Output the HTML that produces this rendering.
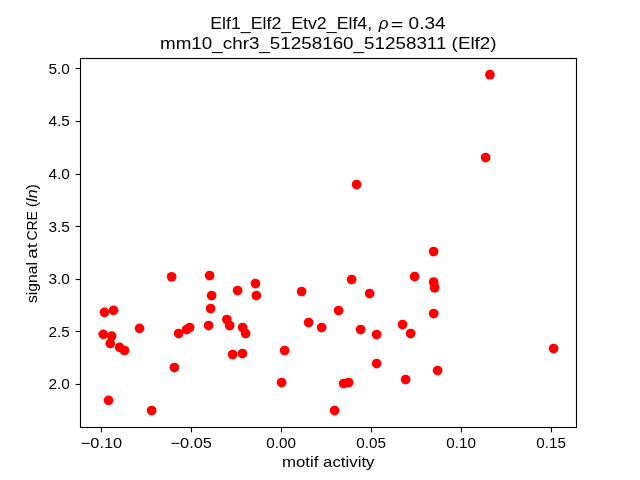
<!DOCTYPE html>
<html><head><meta charset="utf-8"><style>
html,body{margin:0;padding:0;background:#fff;width:640px;height:480px;overflow:hidden}
svg{display:block;will-change:transform}
</style></head><body>
<svg width="640" height="480" viewBox="0 0 640 480">
<rect x="0" y="0" width="640" height="480" fill="#fff"/>
<g fill="#f00">
<circle cx="489.90" cy="74.70" r="4.86"/>
<circle cx="485.65" cy="157.55" r="4.86"/>
<circle cx="356.65" cy="184.55" r="4.86"/>
<circle cx="433.65" cy="251.55" r="4.86"/>
<circle cx="171.65" cy="276.80" r="4.86"/>
<circle cx="209.65" cy="275.55" r="4.86"/>
<circle cx="351.65" cy="279.55" r="4.86"/>
<circle cx="414.65" cy="276.55" r="4.86"/>
<circle cx="433.65" cy="282.05" r="4.86"/>
<circle cx="434.65" cy="287.80" r="4.86"/>
<circle cx="255.45" cy="283.55" r="4.86"/>
<circle cx="237.65" cy="290.55" r="4.86"/>
<circle cx="256.40" cy="295.55" r="4.86"/>
<circle cx="211.65" cy="295.55" r="4.86"/>
<circle cx="301.65" cy="291.55" r="4.86"/>
<circle cx="369.65" cy="293.55" r="4.86"/>
<circle cx="210.65" cy="308.55" r="4.86"/>
<circle cx="104.45" cy="312.35" r="4.86"/>
<circle cx="113.55" cy="310.35" r="4.86"/>
<circle cx="338.65" cy="310.55" r="4.86"/>
<circle cx="433.65" cy="313.55" r="4.86"/>
<circle cx="226.90" cy="319.55" r="4.86"/>
<circle cx="229.65" cy="325.55" r="4.86"/>
<circle cx="208.65" cy="325.55" r="4.86"/>
<circle cx="189.65" cy="327.55" r="4.86"/>
<circle cx="186.65" cy="329.55" r="4.86"/>
<circle cx="178.65" cy="333.55" r="4.86"/>
<circle cx="139.55" cy="328.35" r="4.86"/>
<circle cx="103.30" cy="334.35" r="4.86"/>
<circle cx="111.65" cy="336.10" r="4.86"/>
<circle cx="110.30" cy="343.50" r="4.86"/>
<circle cx="119.65" cy="347.35" r="4.86"/>
<circle cx="124.55" cy="350.50" r="4.86"/>
<circle cx="242.65" cy="327.55" r="4.86"/>
<circle cx="245.65" cy="333.55" r="4.86"/>
<circle cx="308.65" cy="322.55" r="4.86"/>
<circle cx="321.65" cy="327.55" r="4.86"/>
<circle cx="360.65" cy="329.55" r="4.86"/>
<circle cx="376.65" cy="334.55" r="4.86"/>
<circle cx="402.60" cy="324.55" r="4.86"/>
<circle cx="410.65" cy="333.55" r="4.86"/>
<circle cx="232.65" cy="354.55" r="4.86"/>
<circle cx="242.45" cy="353.55" r="4.86"/>
<circle cx="284.65" cy="350.55" r="4.86"/>
<circle cx="553.65" cy="348.55" r="4.86"/>
<circle cx="376.65" cy="363.55" r="4.86"/>
<circle cx="174.40" cy="367.55" r="4.86"/>
<circle cx="437.65" cy="370.55" r="4.86"/>
<circle cx="405.65" cy="379.55" r="4.86"/>
<circle cx="281.65" cy="382.55" r="4.86"/>
<circle cx="343.65" cy="383.55" r="4.86"/>
<circle cx="348.65" cy="382.55" r="4.86"/>
<circle cx="108.55" cy="400.35" r="4.86"/>
<circle cx="151.65" cy="410.55" r="4.86"/>
<circle cx="334.65" cy="410.55" r="4.86"/>
</g>
<rect x="80.5" y="58.5" width="496.0" height="369.0" fill="none" stroke="#000" stroke-width="1.11"/>
<g stroke="#000" stroke-width="1.11"><line x1="101.5" y1="427.5" x2="101.5" y2="432.36"/><line x1="191.5" y1="427.5" x2="191.5" y2="432.36"/><line x1="281.5" y1="427.5" x2="281.5" y2="432.36"/><line x1="371.5" y1="427.5" x2="371.5" y2="432.36"/><line x1="461.5" y1="427.5" x2="461.5" y2="432.36"/><line x1="551.5" y1="427.5" x2="551.5" y2="432.36"/><line x1="80.5" y1="68.5" x2="75.64" y2="68.5"/><line x1="80.5" y1="121.5" x2="75.64" y2="121.5"/><line x1="80.5" y1="174.5" x2="75.64" y2="174.5"/><line x1="80.5" y1="226.5" x2="75.64" y2="226.5"/><line x1="80.5" y1="279.5" x2="75.64" y2="279.5"/><line x1="80.5" y1="331.5" x2="75.64" y2="331.5"/><line x1="80.5" y1="384.5" x2="75.64" y2="384.5"/></g>
<g font-family='"Liberation Sans", sans-serif' font-size="14.6" fill="#000"><text x="101.50" y="448.0" text-anchor="middle" textLength="41.4" lengthAdjust="spacingAndGlyphs">−0.10</text><text x="191.20" y="448.0" text-anchor="middle" textLength="41.4" lengthAdjust="spacingAndGlyphs">−0.05</text><text x="281.10" y="448.0" text-anchor="middle" textLength="29.7" lengthAdjust="spacingAndGlyphs">0.00</text><text x="371.10" y="448.0" text-anchor="middle" textLength="29.7" lengthAdjust="spacingAndGlyphs">0.05</text><text x="461.10" y="448.0" text-anchor="middle" textLength="29.7" lengthAdjust="spacingAndGlyphs">0.10</text><text x="551.10" y="448.0" text-anchor="middle" textLength="29.7" lengthAdjust="spacingAndGlyphs">0.15</text><text x="69.9" y="74.25" text-anchor="end" textLength="21.4" lengthAdjust="spacingAndGlyphs">5.0</text><text x="69.9" y="126.0" text-anchor="end" textLength="21.4" lengthAdjust="spacingAndGlyphs">4.5</text><text x="69.9" y="179.0" text-anchor="end" textLength="21.4" lengthAdjust="spacingAndGlyphs">4.0</text><text x="69.9" y="232.0" text-anchor="end" textLength="21.4" lengthAdjust="spacingAndGlyphs">3.5</text><text x="69.9" y="284.0" text-anchor="end" textLength="21.4" lengthAdjust="spacingAndGlyphs">3.0</text><text x="69.9" y="337.0" text-anchor="end" textLength="21.4" lengthAdjust="spacingAndGlyphs">2.5</text><text x="69.9" y="389.0" text-anchor="end" textLength="21.4" lengthAdjust="spacingAndGlyphs">2.0</text><text x="328.2" y="466.6" text-anchor="middle" textLength="92.6" lengthAdjust="spacingAndGlyphs">motif activity</text><text transform="translate(37.1,0) rotate(-90)" x="-303.00" y="0" textLength="41.00" lengthAdjust="spacingAndGlyphs">signal</text><text transform="translate(37.1,0) rotate(-90)" x="-258.80" y="0" textLength="15.70" lengthAdjust="spacingAndGlyphs">at</text><text transform="translate(37.1,0) rotate(-90)" x="-240.60" y="0" textLength="29.40" lengthAdjust="spacingAndGlyphs">CRE</text><text transform="translate(37.1,0) rotate(-90)" x="-207.30" y="0" textLength="23.20" lengthAdjust="spacingAndGlyphs">(<tspan font-style="italic">ln</tspan>)</text></g>
<g font-family='"Liberation Sans", sans-serif' font-size="17.0" fill="#000"><text x="210.2" y="29" textLength="162.0" lengthAdjust="spacingAndGlyphs">Elf1<tspan baseline-shift="-1.0">_</tspan>Elf2<tspan baseline-shift="-1.0">_</tspan>Etv2<tspan baseline-shift="-1.0">_</tspan>Elf4,</text><text x="383.6" y="29" text-anchor="middle" font-style="italic">ρ</text><text x="397.0" y="29.5" text-anchor="middle" textLength="12.6" lengthAdjust="spacingAndGlyphs">=</text><text x="445.6" y="29" text-anchor="end" textLength="37.0" lengthAdjust="spacingAndGlyphs">0.34</text><text x="328.3" y="48.75" text-anchor="middle" textLength="336.6" lengthAdjust="spacingAndGlyphs">mm10<tspan baseline-shift="-1.0">_</tspan>chr3<tspan baseline-shift="-1.0">_</tspan>51258160<tspan baseline-shift="-1.0">_</tspan>51258311 (Elf2)</text></g>
</svg>
</body></html>
